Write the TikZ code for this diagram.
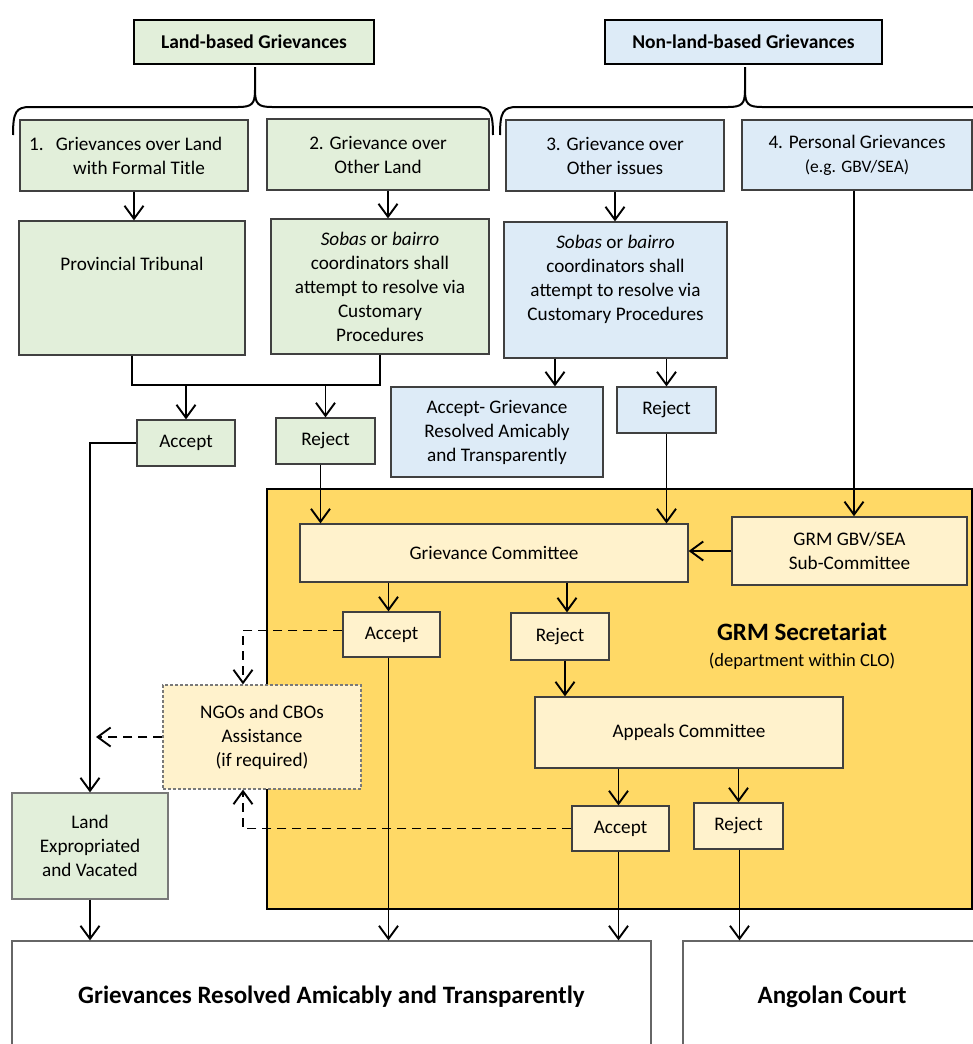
\documentclass[tikz,border=0pt]{standalone}
\usepackage{fontspec}
\setmainfont{Carlito}
\usetikzlibrary{arrows.meta}

\definecolor{landfill}{HTML}{E2EFDA}
\definecolor{otherfill}{HTML}{DDEBF7}
\definecolor{grmfill}{HTML}{FFD966}
\definecolor{grmlight}{HTML}{FFF2CC}
\definecolor{boxline}{HTML}{404040}

\newcommand{\boxfont}{\fontsize{19.2}{24}\selectfont}
\newcommand{\notefont}{\fontsize{17.5}{22}\selectfont}
\newcommand{\headfont}{\fontsize{19.5}{24}\selectfont\bfseries}
\newcommand{\bigfont}{\fontsize{25}{30}\selectfont\bfseries}

\tikzset{
  box/.style={draw=boxline, line width=1.2pt, align=center, inner sep=0pt, font=\boxfont},
  landbox/.style={box, fill=landfill},
  otherbox/.style={box, fill=otherfill},
  grmbox/.style={box, fill=grmlight},
  headbox/.style={box, draw=black, line width=2.2pt, font=\headfont},
  endbox/.style={box, draw=boxline!80, fill=white, font=\bigfont},
  link/.style={line width=1.9pt},
  arr/.style={link, -{Straight Barb[length=13pt,width=19pt]}},
  dasharr/.style={arr, dash pattern=on 9pt off 6pt},
  curly/.style={line width=2pt},
}

\begin{document}
\begin{tikzpicture}[x=1pt, y=-1pt]
  \useasboundingbox (0,0) rectangle (973,1044);
  \clip (0,0) rectangle (973,1044);

% Headings and braces
  \node[headbox, fill=landfill, minimum width=240pt, minimum height=44pt] (landhd) at (254,42) {Land-based Grievances};
  \node[headbox, fill=otherfill, minimum width=277pt, minimum height=44pt] (otherhd) at (743.5,42) {Non-land-based Grievances};

  \draw[curly] (13,135) .. controls (13,112) and (16,107) .. (30,107) -- (238,107)
    .. controls (252,107) and (255,104) .. (255,90) -- (255,67) -- (255,90)
    .. controls (255,104) and (258,107) .. (272,107) -- (476,107)
    .. controls (490,107) and (493,112) .. (493,135);
  \draw[curly] (500,135) .. controls (500,112) and (503,107) .. (517,107) -- (728,107)
    .. controls (742,107) and (745,104) .. (745,90) -- (745,67) -- (745,90)
    .. controls (745,104) and (748,107) .. (762,107) -- (973,107)
    .. controls (987,107) and (990,112) .. (990,135);

% Grievance types
  \node[landbox, minimum width=228pt, minimum height=71pt] (g1) at (134,155.5) {\hspace*{10pt}\llap{1.\hspace{12pt}}Grievances over Land\\\hspace*{10pt}with Formal Title};
  \node[landbox, minimum width=222pt, minimum height=71pt] (g2) at (378,154.5) {2. Grievance over\\Other Land};
  \node[otherbox, minimum width=218pt, minimum height=71pt] (g3) at (615,155.5) {3. Grievance over\\Other issues};
  \node[otherbox, minimum width=230pt, minimum height=70pt] (g4) at (857,155) {4. Personal Grievances\\{\notefont (e.g. GBV/SEA)}};

% First resolution step
  \node[landbox, minimum width=226pt, minimum height=134pt] (trib) at (132,288) {Provincial Tribunal\\ \\ };
  \node[landbox, minimum width=218pt, minimum height=135pt] (sobasg) at (380,286.5) {\textit{Sobas} or \textit{bairro}\\coordinators shall\\attempt to resolve via\\Customary\\Procedures};
  \node[otherbox, minimum width=223pt, minimum height=136pt] (sobasb) at (615.5,290) {\textit{Sobas} or \textit{bairro}\\coordinators shall\\attempt to resolve via\\Customary Procedures\\ };

  \node[landbox, minimum width=98pt, minimum height=46pt] (accg) at (186,443) {Accept};
  \node[landbox, minimum width=99pt, minimum height=46pt] (rejg) at (325.5,441) {Reject};
  \node[otherbox, minimum width=212pt, minimum height=90pt] (accb) at (497,432) {Accept- Grievance\\Resolved Amicably\\and Transparently};
  \node[otherbox, minimum width=99pt, minimum height=46pt] (rejb) at (666.5,410) {Reject};

  \coordinate (jn) at (0,385);
  \draw[link] (trib.south) -- (trib.south |- jn) -| (sobasg.south);
  \draw[arr] (g1.south) -- (g1.south |- trib.north);
  \draw[arr] ([xshift=10pt]g2.south) -- ([xshift=10pt]g2.south |- sobasg.north);
  \draw[arr] (g3.south) -- (g3.south |- sobasb.north);
  \draw[arr] (accg.north |- jn) -- (accg.north);
  \draw[arr] (rejg.north |- jn) -- (rejg.north);
  \draw[arr] (sobasb.south -| 555,0) -- (accb.north -| 555,0);
  \draw[arr] (sobasb.south -| rejb.north) -- (rejb.north);

% GRM Secretariat
  \node[box, draw=black, line width=2.2pt, fill=grmfill, minimum width=705pt, minimum height=420pt] (grm) at (619.5,699) {};
  \node[font=\bigfont, inner sep=0pt] (grmttl) at (802,632) {GRM Secretariat};
  \node[font=\fontsize{18.5}{22}\selectfont, inner sep=0pt] (grmsub) at (802,661) {(department within CLO)};

  \node[grmbox, minimum width=388pt, minimum height=58pt] (gc) at (494,553) {Grievance Committee};
  \node[grmbox, minimum width=235pt, minimum height=68pt, line width=1.5pt] (gbv) at (849.5,551) {GRM GBV/SEA\\Sub-Committee};
  \node[grmbox, minimum width=97pt, minimum height=45pt] (acco) at (391.5,634.5) {Accept};
  \node[grmbox, minimum width=98pt, minimum height=47pt] (rejo) at (560,636.5) {Reject};
  \node[grmbox, minimum width=308pt, minimum height=71pt] (appeal) at (689,732.5) {Appeals Committee};
  \node[grmbox, minimum width=97pt, minimum height=45pt] (acco2) at (620.5,828.5) {Accept};
  \node[grmbox, minimum width=89pt, minimum height=46pt] (rejo2) at (738.5,826) {Reject};
  \node[grmbox, draw=boxline!70, dash pattern=on 3pt off 2pt, minimum width=198pt, minimum height=104pt] (ngo) at (262,737) {NGOs and CBOs\\Assistance\\(if required)};

% Land and final outcomes
  \node[landbox, draw=boxline!70, minimum width=156pt, minimum height=106pt] (land) at (90,846) {Land\\Expropriated\\and Vacated};
  \node[endbox, minimum width=639pt, minimum height=112pt] (resolved) at (331.5,997) {Grievances Resolved Amicably and Transparently};
  \node[endbox, minimum width=298pt, minimum height=112pt] (court) at (832,997) {Angolan Court};

  \draw[arr] ([xshift=-3pt]g4.south) -- ([xshift=-3pt]g4.south |- gbv.north);
  \draw[arr] (rejb.south) -- (rejb.south |- gc.north);
  \draw[arr] ([xshift=-5pt]rejg.south) -- ([xshift=-5pt]rejg.south |- gc.north);
  \draw[arr] (accg.west) -| (land.north);
  \draw[arr] (gbv.west) -- (gbv.west -| gc.east);
  \draw[arr] ([xshift=-3pt]gc.south -| acco.north) -- ([xshift=-3pt]acco.north);
  \draw[arr] ([xshift=7pt]gc.south -| rejo.north) -- ([xshift=7pt]rejo.north);
  \draw[arr] ([xshift=5pt]rejo.south) -- ([xshift=5pt]rejo.south |- appeal.north);
  \draw[arr] ([xshift=-2pt]appeal.south -| acco2.north) -- ([xshift=-2pt]acco2.north);
  \draw[arr] (appeal.south -| rejo2.north) -- (rejo2.north);
  \draw[arr] ([xshift=-3pt]acco.south) -- ([xshift=-3pt]acco.south |- resolved.north);
  \draw[arr] ([xshift=-2pt]acco2.south) -- ([xshift=-2pt]acco2.south |- resolved.north);
  \draw[arr] ([xshift=1pt]rejo2.south) -- ([xshift=1pt]rejo2.south |- court.north);
  \draw[arr] (land.south) -- (land.south |- resolved.north);

% Optional NGO/CBO assistance
  \coordinate (landline) at ([xshift=6pt]land.north);
  \draw[dasharr] ([yshift=4pt]acco.west) -| ([xshift=-19pt]ngo.north);
  \draw[dasharr] (acco2.west) -| ([xshift=-19pt]ngo.south);
  \draw[dasharr] (ngo.west) -- (ngo.west -| landline);
\end{tikzpicture}
\end{document}
